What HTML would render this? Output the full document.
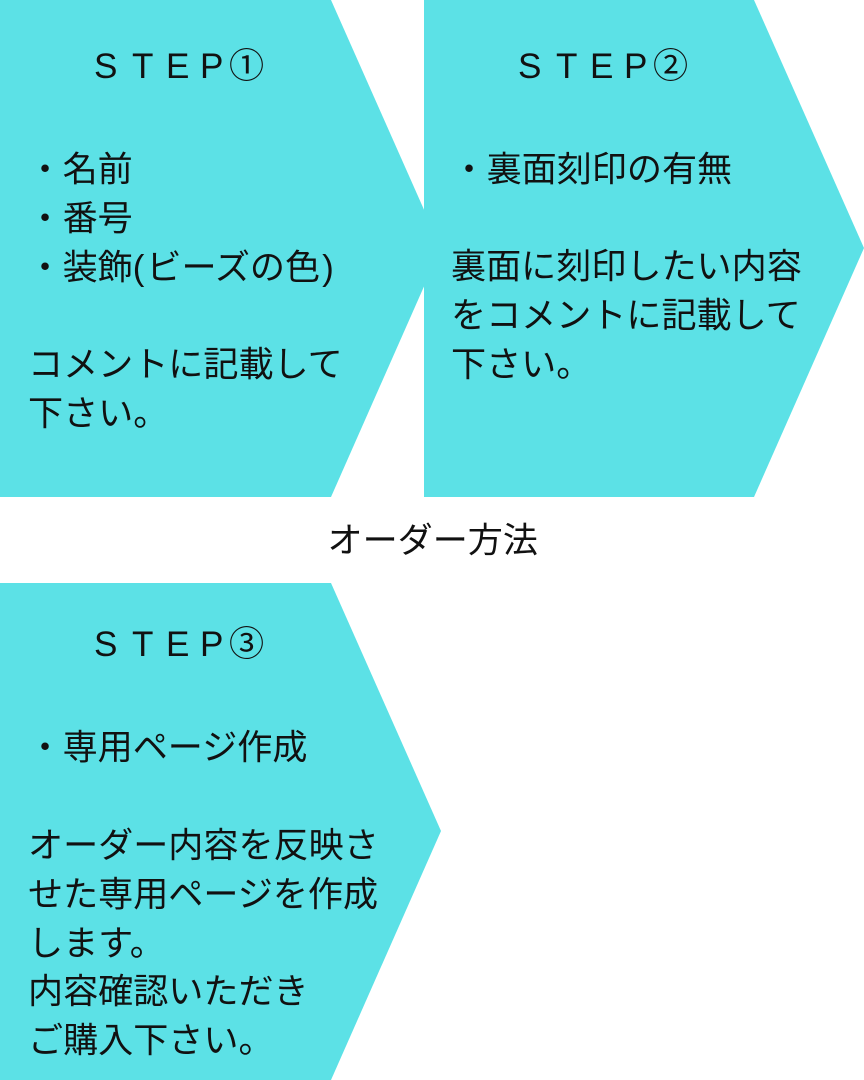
<!DOCTYPE html>
<html lang="ja">
<head>
<meta charset="utf-8">
<style>
html,body{margin:0;padding:0;background:#fff;}
body{width:864px;height:1080px;overflow:hidden;position:relative;}
svg{position:absolute;left:0;top:0;}
text{font-family:"Liberation Sans","Noto Sans CJK JP",sans-serif;font-size:35.1px;fill:#111;font-weight:400;}
</style>
</head>
<body>
<svg width="864" height="1080" viewBox="0 0 864 1080" xmlns="http://www.w3.org/2000/svg">
<polygon points="0,0 331,0 441,248 331,497 0,497" fill="#5ce1e6"/>
<polygon points="424,0 754,0 864,248 754,497 424,497" fill="#5ce1e6"/>
<polygon points="0,583 331,583 441,831 331,1080 0,1080" fill="#5ce1e6"/>

<text x="94 132 166 200 229" y="78">STEP①</text>
<text x="27.5" y="181.5">・名前</text>
<text x="27.5" y="230.5">・番号</text>
<text x="27.5" y="279.5">・装飾(<tspan dx="2">ビーズの色</tspan><tspan dx="2">)</tspan></text>
<text x="28" y="376.5">コメントに記載して</text>
<text x="28" y="425.5">下さい。</text>

<text x="518 556 590 624 653" y="78">STEP②</text>
<text x="451.5" y="181.5">・裏面刻印の有無</text>
<text x="451" y="278.5">裏面に刻印したい内容</text>
<text x="451" y="327.5">をコメントに記載して</text>
<text x="451" y="376.5">下さい。</text>

<text x="327.5" y="552.5">オーダー方法</text>

<text x="94 132 166 200 229" y="656">STEP③</text>
<text x="27.5" y="759.5">・専用ページ作成</text>
<text x="28" y="857.5">オーダー内容を反映さ</text>
<text x="28" y="906.5">せた専用ページを作成</text>
<text x="28" y="955.5">します。</text>
<text x="28" y="1003.5">内容確認いただき</text>
<text x="28" y="1052.5">ご購入下さい。</text>
</svg>
</body>
</html>
